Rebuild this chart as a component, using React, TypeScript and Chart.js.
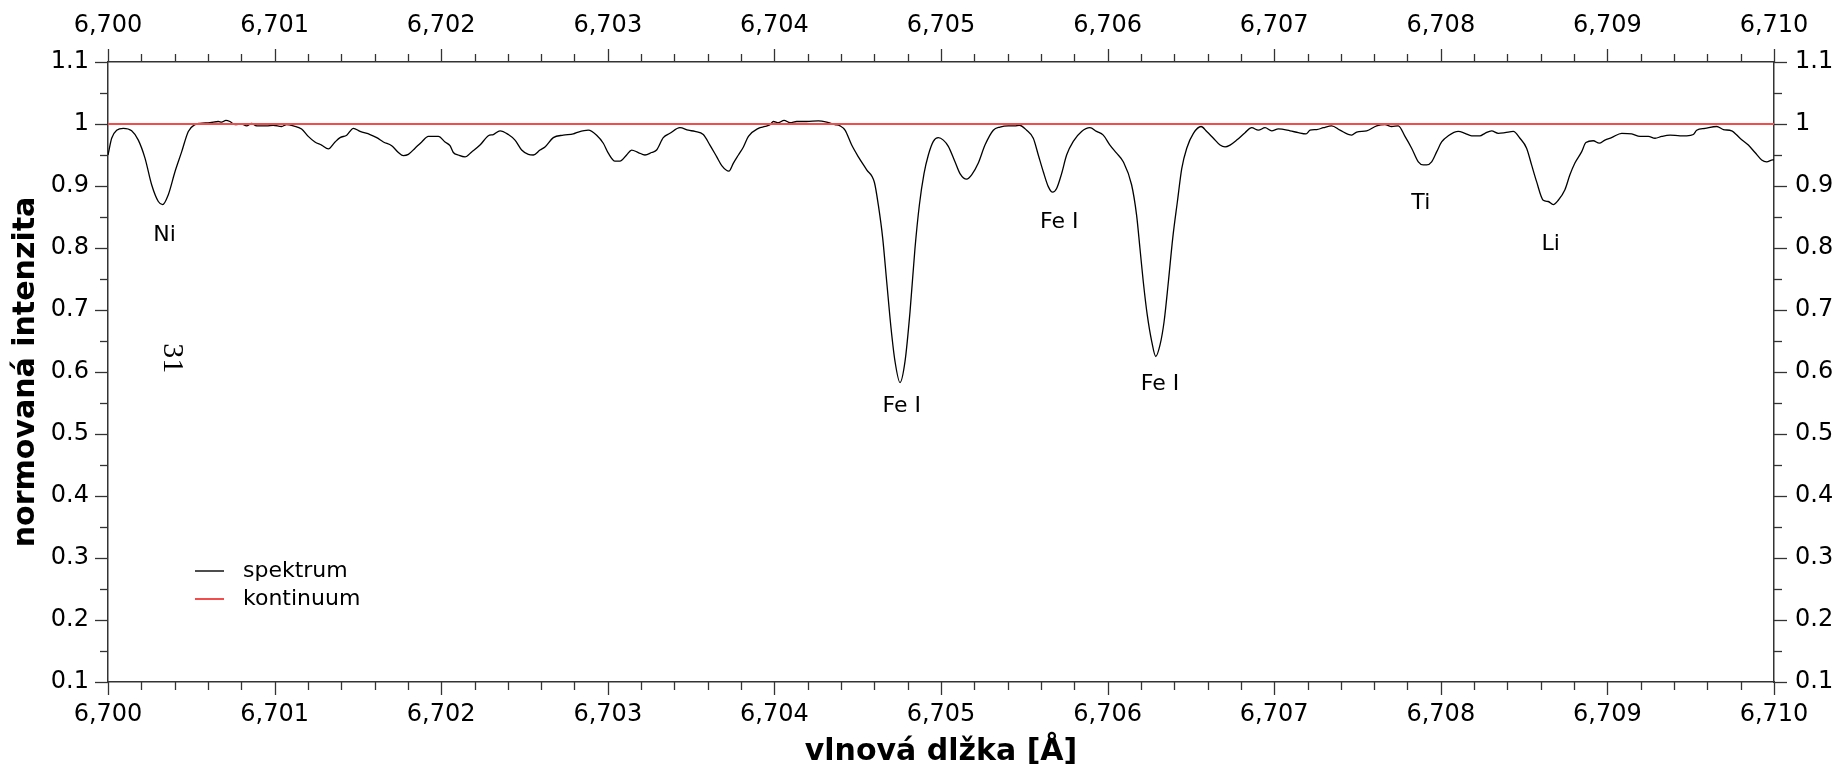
import React, { useEffect, useRef } from 'react';
import { Chart, registerables } from 'chart.js';

Chart.register(...registerables);

// ---------- data ----------
const wavelength = [
  6700.000, 6700.022, 6700.052, 6700.092, 6700.142, 6700.182, 6700.222, 6700.262, 6700.302, 6700.328,
  6700.362, 6700.402, 6700.442, 6700.482, 6700.522, 6700.552, 6700.612, 6700.662, 6700.682, 6700.708,
  6700.732, 6700.762, 6700.802, 6700.832, 6700.862, 6700.892, 6700.952, 6700.992, 6701.042, 6701.072,
  6701.112, 6701.162, 6701.202, 6701.242, 6701.282, 6701.323, 6701.363, 6701.393, 6701.433, 6701.473,
  6701.513, 6701.573, 6701.613, 6701.653, 6701.703, 6701.743, 6701.773, 6701.803, 6701.843, 6701.883,
  6701.923, 6701.983, 6702.023, 6702.053, 6702.073, 6702.103, 6702.143, 6702.183, 6702.233, 6702.283,
  6702.313, 6702.353, 6702.403, 6702.443, 6702.483, 6702.523, 6702.553, 6702.593, 6702.623, 6702.673,
  6702.733, 6702.793, 6702.823, 6702.883, 6702.933, 6702.973, 6703.003, 6703.043, 6703.073, 6703.113,
  6703.143, 6703.183, 6703.223, 6703.263, 6703.293, 6703.333, 6703.373, 6703.433, 6703.483, 6703.523,
  6703.573, 6703.613, 6703.654, 6703.684, 6703.727, 6703.754, 6703.784, 6703.814, 6703.844, 6703.904,
  6703.944, 6703.974, 6703.994, 6704.024, 6704.058, 6704.094, 6704.134, 6704.194, 6704.264, 6704.314,
  6704.364, 6704.394, 6704.424, 6704.464, 6704.504, 6704.554, 6704.600, 6704.624, 6704.650, 6704.674,
  6704.700, 6704.724, 6704.754, 6704.784, 6704.814, 6704.844, 6704.870, 6704.898, 6704.924, 6704.954,
  6704.984, 6705.014, 6705.044, 6705.084, 6705.114, 6705.154, 6705.184, 6705.224, 6705.264, 6705.314,
  6705.354, 6705.404, 6705.444, 6705.470, 6705.514, 6705.554, 6705.584, 6705.614, 6705.644, 6705.670,
  6705.694, 6705.724, 6705.754, 6705.794, 6705.844, 6705.894, 6705.934, 6705.974, 6706.014, 6706.054,
  6706.094, 6706.144, 6706.174, 6706.194, 6706.214, 6706.238, 6706.265, 6706.289, 6706.315, 6706.339,
  6706.365, 6706.391, 6706.419, 6706.445, 6706.475, 6706.515, 6706.561, 6706.595, 6706.635, 6706.675,
  6706.705, 6706.735, 6706.775, 6706.825, 6706.865, 6706.905, 6706.945, 6706.985, 6707.025, 6707.095,
  6707.145, 6707.191, 6707.215, 6707.255, 6707.295, 6707.345, 6707.395, 6707.465, 6707.495, 6707.555,
  6707.615, 6707.665, 6707.705, 6707.745, 6707.785, 6707.825, 6707.865, 6707.895, 6707.915, 6707.945,
  6707.975, 6708.005, 6708.045, 6708.105, 6708.145, 6708.185, 6708.235, 6708.265, 6708.305, 6708.345,
  6708.385, 6708.435, 6708.475, 6708.515, 6708.545, 6708.575, 6708.615, 6708.645, 6708.675, 6708.705,
  6708.745, 6708.775, 6708.805, 6708.845, 6708.871, 6708.915, 6708.951, 6708.985, 6709.025, 6709.086,
  6709.146, 6709.196, 6709.246, 6709.286, 6709.326, 6709.376, 6709.436, 6709.476, 6709.516, 6709.536,
  6709.586, 6709.656, 6709.696, 6709.746, 6709.796, 6709.846, 6709.886, 6709.926, 6709.956, 6709.992,
  6710.000,
];

const intensity = [
  0.950, 0.977, 0.990, 0.993, 0.989, 0.974, 0.945, 0.902, 0.875, 0.870,
  0.886, 0.923, 0.955, 0.988, 0.999, 1.001, 1.002, 1.004, 1.003, 1.006,
  1.004, 0.999, 1.000, 0.997, 1.001, 0.997, 0.997, 0.998, 0.996, 0.999,
  0.997, 0.992, 0.980, 0.971, 0.966, 0.960, 0.971, 0.978, 0.982, 0.993,
  0.988, 0.983, 0.978, 0.971, 0.965, 0.954, 0.949, 0.951, 0.961, 0.971,
  0.980, 0.980, 0.971, 0.965, 0.954, 0.950, 0.947, 0.955, 0.966, 0.981,
  0.983, 0.989, 0.983, 0.974, 0.958, 0.951, 0.950, 0.958, 0.963, 0.978,
  0.982, 0.984, 0.987, 0.990, 0.982, 0.969, 0.953, 0.940, 0.940, 0.950,
  0.958, 0.954, 0.950, 0.954, 0.958, 0.978, 0.985, 0.994, 0.990, 0.988,
  0.983, 0.966, 0.947, 0.933, 0.924, 0.937, 0.950, 0.963, 0.980, 0.993,
  0.996, 0.999, 1.004, 1.002, 1.006, 1.002, 1.004, 1.004, 1.005, 1.003,
  0.999, 0.997, 0.990, 0.966, 0.947, 0.926, 0.906, 0.869, 0.816, 0.746,
  0.671, 0.617, 0.583, 0.617, 0.697, 0.800, 0.869, 0.920, 0.950, 0.972,
  0.978, 0.974, 0.964, 0.939, 0.920, 0.911, 0.918, 0.937, 0.966, 0.990,
  0.995, 0.997, 0.997, 0.998, 0.990, 0.977, 0.950, 0.923, 0.899, 0.890,
  0.896, 0.920, 0.950, 0.972, 0.988, 0.994, 0.988, 0.982, 0.966, 0.953,
  0.939, 0.902, 0.853, 0.800, 0.746, 0.692, 0.649, 0.625, 0.644, 0.681,
  0.746, 0.816, 0.875, 0.928, 0.961, 0.985, 0.996, 0.988, 0.977, 0.966,
  0.963, 0.966, 0.974, 0.986, 0.994, 0.990, 0.994, 0.989, 0.992, 0.989,
  0.986, 0.984, 0.990, 0.991, 0.994, 0.997, 0.990, 0.982, 0.987, 0.989,
  0.997, 0.999, 0.996, 0.997, 0.980, 0.961, 0.939, 0.934, 0.934, 0.939,
  0.955, 0.971, 0.981, 0.988, 0.985, 0.981, 0.981, 0.985, 0.989, 0.985,
  0.986, 0.988, 0.977, 0.961, 0.934, 0.907, 0.877, 0.875, 0.870, 0.877,
  0.894, 0.918, 0.937, 0.955, 0.970, 0.973, 0.969, 0.974, 0.978, 0.985,
  0.984, 0.980, 0.980, 0.977, 0.980, 0.982, 0.981, 0.981, 0.983, 0.990,
  0.993, 0.996, 0.991, 0.989, 0.977, 0.966, 0.954, 0.942, 0.939, 0.942,
  0.942,
];

const continuumX = [6700, 6710];
const continuumY = [1, 1];

const seriesNames = ['spektrum', 'kontinuum'];

const lineLabels = ['Ni', 'Fe I', 'Fe I', 'Fe I', 'Ti', 'Li'];
const lineLabelX = [6700.339, 6704.764, 6705.710, 6706.315, 6707.880, 6708.660];
const lineLabelY = [0.821, 0.544, 0.841, 0.580, 0.872, 0.806];

const noteText = '31';
const noteX = 6700.382;
const noteY = 0.622;

const xTitle = 'vlnová dlžka [Å]';
const yTitle = 'normovaná intenzita';

const xMin = 6700;
const xMax = 6710;
const yMin = 0.1;
const yMax = 1.1;

// ---------- styling helpers ----------
const FONT = 'DejaVu Sans';
const AXIS_COLOR = '#333333';
const SPEC_COLOR = '#000000';
const CONT_COLOR = '#f24c4c';

const isIntTick = (v: number) => Math.abs(v - Math.round(v)) < 1e-6;
const isTenthTick = (v: number) => Math.abs(v * 10 - Math.round(v * 10)) < 1e-6;

const xTickLabel = (v: number) => (isIntTick(v) ? Math.round(v).toLocaleString('en-US') : '');
const yTickLabel = (v: number) => (isTenthTick(v) ? String(parseFloat(v.toFixed(1))) : '');

const MAJOR_LEN = 13;
const MINOR_LEN = 8;

const ticksPlugin = {
  id: 'customTicks',
  afterDraw(chart: any) {
    const ctx = chart.ctx;
    ctx.save();
    ctx.strokeStyle = AXIS_COLOR;
    ctx.lineWidth = 1.3;
    const draw = (id: string, major: (v: number) => boolean) => {
      const s = chart.scales[id];
      if (!s) return;
      s.ticks.forEach((t: any) => {
        const len = major(t.value) ? MAJOR_LEN : MINOR_LEN;
        const p = Math.round(s.getPixelForValue(t.value)) + 0.5;
        ctx.beginPath();
        if (id === 'x') { ctx.moveTo(p, s.top); ctx.lineTo(p, s.top + len); }
        else if (id === 'x2') { ctx.moveTo(p, s.bottom); ctx.lineTo(p, s.bottom - len); }
        else if (id === 'y') { ctx.moveTo(s.right, p); ctx.lineTo(s.right - len, p); }
        else { ctx.moveTo(s.left, p); ctx.lineTo(s.left + len, p); }
        ctx.stroke();
      });
    };
    draw('x', isIntTick);
    draw('x2', isIntTick);
    draw('y', isTenthTick);
    draw('y2', isTenthTick);
    ctx.restore();
  },
};

const annotationPlugin = {
  id: 'lineAnnotations',
  afterDatasetsDraw(chart: any) {
    const ctx = chart.ctx;
    const xs = chart.scales.x;
    const ys = chart.scales.y;
    ctx.save();
    ctx.fillStyle = '#000';
    ctx.font = `22px "${FONT}"`;
    ctx.textAlign = 'center';
    ctx.textBaseline = 'middle';
    lineLabels.forEach((lab, i) => {
      ctx.fillText(lab, xs.getPixelForValue(lineLabelX[i]), ys.getPixelForValue(lineLabelY[i]));
    });
    // rotated page note
    ctx.translate(xs.getPixelForValue(noteX), ys.getPixelForValue(noteY));
    ctx.rotate(Math.PI / 2);
    ctx.font = '30px "Liberation Serif", "DejaVu Serif", serif';
    ctx.fillText(noteText, 0, 0);
    ctx.restore();
  },
};

const legendPlugin = {
  id: 'innerLegend',
  afterDraw(chart: any) {
    const ctx = chart.ctx;
    const area = chart.chartArea;
    const colors = [SPEC_COLOR, CONT_COLOR];
    const widths = [1.4, 2];
    ctx.save();
    ctx.font = `22px "${FONT}"`;
    ctx.textAlign = 'left';
    ctx.textBaseline = 'middle';
    seriesNames.forEach((name, i) => {
      const y = area.bottom - 111 + i * 28;
      ctx.strokeStyle = colors[i];
      ctx.lineWidth = widths[i];
      ctx.beginPath();
      ctx.moveTo(area.left + 87, y);
      ctx.lineTo(area.left + 116, y);
      ctx.stroke();
      ctx.fillStyle = '#000';
      ctx.fillText(name, area.left + 135, y);
    });
    ctx.restore();
  },
};

function xAxis(position: 'bottom' | 'top', size: number, padding: number, withTitle: boolean) {
  return {
    type: 'linear',
    position,
    min: xMin,
    max: xMax,
    border: { display: true, color: AXIS_COLOR, width: 1.5 },
    grid: { drawOnChartArea: false, drawTicks: true, tickLength: MAJOR_LEN, tickColor: 'rgba(0,0,0,0)' },
    ticks: {
      stepSize: 0.2,
      autoSkip: false,
      maxRotation: 0,
      padding,
      color: '#000',
      font: { family: FONT, size: 24 },
      callback: (v: any) => xTickLabel(Number(v)),
    },
    title: withTitle
      ? { display: true, text: xTitle, color: '#000', font: { family: FONT, size: 30, weight: 'bold' }, padding: { top: 0, bottom: -1 } }
      : { display: false },
    afterFit: (s: any) => { s.height = size; },
  };
}

function yAxis(position: 'left' | 'right', size: number, padding: number, withTitle: boolean) {
  return {
    type: 'linear',
    position,
    min: yMin,
    max: yMax,
    border: { display: true, color: AXIS_COLOR, width: 1.5 },
    grid: { drawOnChartArea: false, drawTicks: true, tickLength: MAJOR_LEN, tickColor: 'rgba(0,0,0,0)' },
    ticks: {
      stepSize: 0.05,
      autoSkip: false,
      padding,
      color: '#000',
      font: { family: FONT, size: 24 },
      callback: (v: any) => yTickLabel(Number(v)),
    },
    title: withTitle
      ? { display: true, text: yTitle, color: '#000', font: { family: FONT, size: 30, weight: 'bold' }, padding: { top: 8, bottom: 0 } }
      : { display: false },
    afterFit: (s: any) => { s.width = size; },
  };
}

export default function App() {
  const canvasRef = useRef<HTMLCanvasElement | null>(null);

  useEffect(() => {
    document.body.style.margin = '0';
    document.body.style.overflow = 'hidden';
    const canvas = canvasRef.current;
    if (!canvas) return;

    const chart = new Chart(canvas, {
      type: 'line',
      data: {
        datasets: [
          {
            label: seriesNames[0],
            data: wavelength.map((x, i) => ({ x, y: intensity[i] })),
            borderColor: SPEC_COLOR,
            borderWidth: 1.3,
            pointRadius: 0,
            cubicInterpolationMode: 'monotone',
            fill: false,
            xAxisID: 'x',
            yAxisID: 'y',
            order: 1,
          },
          {
            label: seriesNames[1],
            data: continuumX.map((x, i) => ({ x, y: continuumY[i] })),
            borderColor: CONT_COLOR,
            borderWidth: 2,
            pointRadius: 0,
            fill: false,
            xAxisID: 'x',
            yAxisID: 'y',
            order: 0,
          },
        ],
      },
      options: {
        animation: false,
        responsive: true,
        maintainAspectRatio: false,
        layout: { padding: 0 },
        plugins: {
          legend: { display: false },
          tooltip: { enabled: false },
        },
        scales: {
          x: xAxis('bottom', 87, 5, true),
          x2: xAxis('top', 62, 9, false),
          y: yAxis('left', 108, 6, true),
          y2: yAxis('right', 62, 8, false),
        } as any,
      },
      plugins: [ticksPlugin, annotationPlugin, legendPlugin],
    } as any);

    return () => chart.destroy();
  }, []);

  return (
    <div style={{ position: 'fixed', left: 0, top: 0, width: '1836px', height: '769px', background: '#fff' }}>
      <canvas ref={canvasRef} />
    </div>
  );
}
